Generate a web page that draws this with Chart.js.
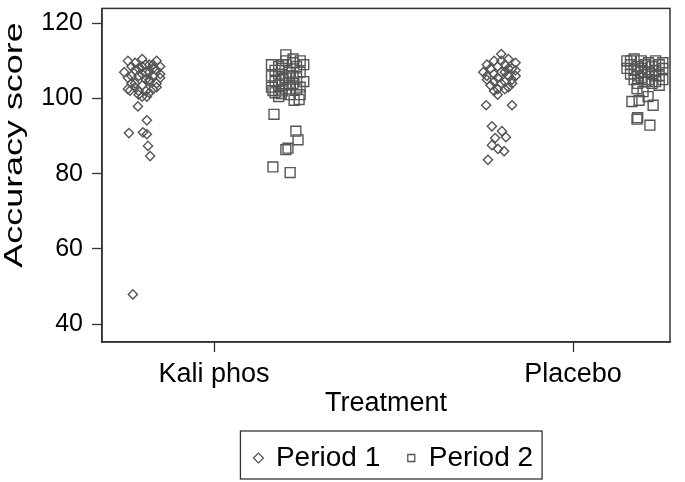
<!DOCTYPE html>
<html>
<head>
<meta charset="utf-8">
<script src="https://cdn.jsdelivr.net/npm/chart.js@4/dist/chart.umd.min.js"></script>
<style>
  html, body { margin: 0; padding: 0; background: #fff; }
</style>
</head>
<body>
<canvas id="grafico" width="685" height="482"></canvas>
<script>
var categorias = ['Kali phos', 'Placebo'];
var periodos = ['Period 1', 'Period 2'];
var ticksY = [40, 60, 80, 100, 120];

// Kali phos, periodo 1 (x = 1 + jitter)
var kaliP1x = [0.76,0.78,0.80,0.82,0.84,0.77,0.79,0.81,0.83,0.85,0.75,0.78,0.80,0.82,0.84,0.76,0.79,0.81,0.83,0.85,0.77,0.80,0.82,0.84,0.76,0.78,0.81,0.83,0.79,0.82,0.80,0.84,0.77,0.83,0.81,0.78,0.85,0.80,0.82,0.79,
               0.788,0.813,0.763,0.802,0.813,0.816,0.822,0.766,0.813,0.774];
var kaliP1y = [110,109.5,110.5,109,110,108.5,108,109,108,108.5,107,107.5,106.5,107,107.5,105.5,106,105,106,105.5,104,103.5,104.5,104,102.5,103,102,102.5,101,101.5,100.5,103,106,109,107,104,106.5,108.5,105,102,
               97.9,94.2,90.8,91.0,90.5,87.4,84.7,102.1,100.5,47.9];

// Kali phos, periodo 2
var kaliP2x = [1.16,1.18,1.20,1.22,1.24,1.17,1.19,1.21,1.23,1.25,1.16,1.18,1.20,1.22,1.24,1.17,1.19,1.21,1.23,1.25,1.16,1.18,1.20,1.22,1.24,1.17,1.19,1.21,1.23,1.20,1.22,1.18,1.24,1.19,1.21,
               1.167,1.228,1.234,1.200,1.206,1.164,1.212,1.223,1.237,1.164,1.187];
var kaliP2y = [109,108.5,110,109.5,110,107.5,108,107,108.5,109,106,106.5,105.5,106,107,104.5,105,104,105.5,104.5,103,103.5,102.5,104,103,101.5,102,101,102.5,111.6,110.5,100.5,101,109,106,
               95.8,91.3,89.0,86.4,86.8,81.8,80.3,99.5,99.7,102.1,101.3];

// Placebo, periodo 1
var placP1x = [1.76,1.78,1.80,1.82,1.84,1.77,1.79,1.81,1.83,1.75,1.78,1.80,1.82,1.84,1.76,1.79,1.81,1.83,1.77,1.80,1.82,1.78,1.81,1.79,1.83,1.76,1.80,1.82,1.78,1.84,1.81,1.79,
               1.758,1.830,1.774,1.802,1.783,1.813,1.774,1.791,1.808,1.763];
var placP1y = [109,110,111.8,110.5,109.5,108,108.5,109,108,107,106.5,107,106,107.5,105,105.5,104.5,105,103.5,104,103,102,102.5,101,104,106,110,108,104.5,106,107,102.5,
               98.2,98.2,92.6,91.3,89.5,89.7,87.6,86.6,86.0,83.7];

// Placebo, periodo 2
var placP2x = [2.15,2.17,2.19,2.21,2.23,2.25,2.16,2.18,2.20,2.22,2.24,2.15,2.17,2.19,2.21,2.23,2.25,2.16,2.18,2.20,2.22,2.24,2.17,2.19,2.21,2.23,2.25,2.18,2.20,2.22,2.24,2.16,2.19,2.23,
               2.178,2.195,2.164,2.184,2.223,2.209,2.178,2.180,2.214];
var placP2y = [110,110.5,110,109.5,110,109.5,109,108.5,109,108.5,109,108,107.5,108,107,107.5,108,106.5,106,107,106.5,106,105,105.5,105,104.5,105,104,104.5,104,103.5,110,107,106,
               102.6,101.8,99.2,99.5,98.2,100.5,94.5,94.9,92.9];

function puntos(xs, ys) {
  var p = [];
  for (var i = 0; i < xs.length; i++) p.push({x: xs[i], y: ys[i]});
  return p;
}

var gris = '#555555';
var linea = '#333333';
var fuente = '"Liberation Sans", Arial, sans-serif';

// marco del area, caja de la leyenda y titulo del eje y
var marco = {
  id: 'marco',
  afterLayout: function(chart) {
    chart.legend.left += 8;
    chart.legend.right += 8;
  },
  afterDraw: function(chart) {
    var ctx = chart.ctx, a = chart.chartArea;
    ctx.save();
    ctx.strokeStyle = linea;
    ctx.lineWidth = 1.5;
    ctx.strokeRect(a.left, a.top, a.right - a.left, a.bottom - a.top);
    var cajas = chart.legend.legendHitBoxes;
    if (cajas && cajas.length) {
      var ult = cajas[cajas.length - 1];
      var izq = cajas[0].left - 14.5, der = ult.left + ult.width + 9;
      var arr = cajas[0].top - 13, abj = cajas[0].top + cajas[0].height + 7;
      ctx.lineWidth = 1.3;
      ctx.strokeRect(izq, arr, der - izq, abj - arr);
    }
    ctx.restore();

    ctx.save();
    ctx.fillStyle = '#000';
    ctx.font = '26px ' + fuente;
    ctx.textAlign = 'center';
    ctx.textBaseline = 'middle';
    ctx.translate(15, 145);
    ctx.rotate(-Math.PI / 2);
    ctx.scale(1.38, 1);
    ctx.fillText('Accuracy score', 0, 0);
    ctx.restore();
  }
};

new Chart(document.getElementById('grafico'), {
  type: 'scatter',
  data: {
    datasets: [
      {
        label: periodos[0],
        data: puntos(kaliP1x, kaliP1y).concat(puntos(placP1x, placP1y)),
        pointStyle: 'rectRot',
        pointRadius: 4.6,
        borderColor: gris,
        backgroundColor: 'rgba(0,0,0,0)',
        borderWidth: 1.4
      },
      {
        label: periodos[1],
        data: puntos(kaliP2x, kaliP2y).concat(puntos(placP2x, placP2y)),
        pointStyle: 'rect',
        pointRadius: 7,
        borderColor: gris,
        backgroundColor: 'rgba(0,0,0,0)',
        borderWidth: 1.4
      }
    ]
  },
  options: {
    responsive: false,
    animation: false,
    layout: { padding: { left: 0, right: 15, top: 2, bottom: 0 } },
    plugins: {
      tooltip: { enabled: false },
      legend: {
        position: 'bottom',
        fullSize: false,
        labels: {
          usePointStyle: true,
          boxWidth: 7,
          boxHeight: 7,
          padding: 12,
          color: '#000',
          font: { family: fuente, size: 28 },
          generateLabels: function(chart) {
            var items = Chart.defaults.plugins.legend.labels.generateLabels(chart);
            items.forEach(function(it, i) {
              it.lineWidth = 1.3;
              if (i < items.length - 1) it.text = it.text + '  ';
            });
            return items;
          }
        }
      }
    },
    scales: {
      x: {
        type: 'linear',
        min: 0.688,
        max: 2.27,
        afterBuildTicks: function(s) { s.ticks = [{value: 1}, {value: 2}]; },
        afterFit: function(s) { s.height = 90; },
        ticks: {
          color: '#000',
          padding: 6,
          font: { family: fuente, size: 27 },
          callback: function(v) { return categorias[Math.round(v) - 1]; }
        },
        grid: { drawOnChartArea: false, color: linea, tickLength: 10, tickWidth: 1.3 },
        border: { color: linea, width: 1.5 },
        title: { display: true, text: 'Treatment', color: '#000', font: { family: fuente, size: 27 }, padding: { top: 0, bottom: 12 } }
      },
      y: {
        min: 35.26,
        max: 123.95,
        afterBuildTicks: function(s) { s.ticks = ticksY.map(function(v) { return {value: v}; }); },
        afterFit: function(s) { s.width = 102; s.paddingTop = 0; s.paddingBottom = 0; },
        ticks: {
          color: '#000',
          padding: 9,
          font: { family: fuente, size: 25 }
        },
        grid: { drawOnChartArea: false, color: linea, tickLength: 10, tickWidth: 1.3 },
        border: { color: linea, width: 1.5 },
        title: { display: false }
      }
    }
  },
  plugins: [marco]
});
</script>
</body>
</html>
